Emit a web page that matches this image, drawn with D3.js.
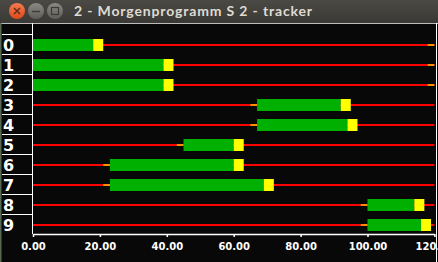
<!DOCTYPE html>
<html>
<head>
<meta charset="utf-8">
<script src="https://cdn.jsdelivr.net/npm/d3@7"></script>
<style>
  body { margin: 0; background: #000; overflow: hidden; }
  svg { display: block; }
</style>
</head>
<body>
<script>
// track data (seconds)
const tracks = ["0", "1", "2", "3", "4", "5", "6", "7", "8", "9"];
const preFrom = [118, 118, 118, 65, 65, 43, 21, 21, 98, 98];
const preTo = [120, 120, 120, 67, 67, 45, 23, 23, 100, 100];
const playStart = [0, 0, 0, 67, 67, 45, 23, 23, 100, 100];
const playEnd = [18, 39, 39, 92, 94, 60, 60, 69, 114, 116];
const stopEnd = [21, 42, 42, 95, 97, 63, 63, 72, 117, 119];
const tickValues = [0, 20, 40, 60, 80, 100, 120];
const title = "2 - Morgenprogramm S 2 - tracker";

const W = 438, H = 262;

let svg = d3.select("body").append("svg")
    .attr("width", W)
    .attr("height", H);

let defs = svg.append("defs");
let g1 = defs.append("linearGradient").attr("id", "bar").attr("x1", 0).attr("y1", 0).attr("x2", 0).attr("y2", 1);
g1.append("stop").attr("offset", "0%").attr("stop-color", "#4a4944");
g1.append("stop").attr("offset", "100%").attr("stop-color", "#3a3935");
let g2 = defs.append("linearGradient").attr("id", "close").attr("x1", 0).attr("y1", 0).attr("x2", 0).attr("y2", 1);
g2.append("stop").attr("offset", "0%").attr("stop-color", "#f37a4e");
g2.append("stop").attr("offset", "100%").attr("stop-color", "#df4a1c");
let g3 = defs.append("linearGradient").attr("id", "btn").attr("x1", 0).attr("y1", 0).attr("x2", 0).attr("y2", 1);
g3.append("stop").attr("offset", "0%").attr("stop-color", "#8a8984");
g3.append("stop").attr("offset", "100%").attr("stop-color", "#5e5d59");

// window frame
svg.append("rect").attr("width", W).attr("height", H).attr("fill", "#080808");
svg.append("rect").attr("width", W).attr("height", 23).attr("fill", "url(#bar)");
svg.append("line").attr("x1", 0).attr("x2", W).attr("y1", 23.5).attr("y2", 23.5)
    .attr("stroke", "#bdbdbd");
svg.append("rect").attr("x", 0).attr("y", 23).attr("width", 1.5).attr("height", H - 23).attr("fill", "#56684f");

svg.append("circle").attr("cx", 17).attr("cy", 11).attr("r", 8).attr("fill", "url(#close)");
svg.append("path").attr("d", "M14,8L20,14M20,8L14,14").attr("stroke", "#5a2a1a").attr("stroke-width", 1.4);
svg.append("circle").attr("cx", 36).attr("cy", 11).attr("r", 8).attr("fill", "url(#btn)");
svg.append("path").attr("d", "M32,11.5H40").attr("stroke", "#3c3b37").attr("stroke-width", 1.4);
svg.append("circle").attr("cx", 55).attr("cy", 11).attr("r", 8).attr("fill", "url(#btn)");
svg.append("rect").attr("x", 51.5).attr("y", 7.5).attr("width", 7).attr("height", 7)
    .attr("fill", "none").attr("stroke", "#3c3b37").attr("stroke-width", 1.2);

svg.append("text")
    .attr("x", 74).attr("y", 16)
    .attr("fill", "#dfdbd2")
    .style("font", "bold 14px Lato, 'DejaVu Sans', sans-serif")
    .style("letter-spacing", "0.85px")
    .text(title);

// scales
let x = d3.scaleLinear().domain([0, 120]).range([33, 434.4]);
let y = d3.scaleBand().domain(tracks).range([34, 234]);

// label column
let labelCol = svg.append("g");
labelCol.selectAll("line.sep")
    .data(tracks)
    .enter()
    .append("line")
    .attr("class", "sep")
    .attr("x1", 2).attr("x2", 32)
    .attr("y1", d => y(d) + 0.5).attr("y2", d => y(d) + 0.5)
    .attr("stroke", "#fff");
labelCol.selectAll("text")
    .data(tracks)
    .enter()
    .append("text")
    .attr("x", 3)
    .attr("y", d => y(d) + 17)
    .attr("fill", "#fff")
    .style("font", "bold 16px 'DejaVu Sans', sans-serif")
    .text(d => d);
svg.append("line").attr("x1", 32.5).attr("x2", 32.5).attr("y1", 23).attr("y2", 234)
    .attr("stroke", "#fff");
svg.append("line").attr("x1", 436.5).attr("x2", 436.5).attr("y1", 23).attr("y2", H)
    .attr("stroke", "#fff");

// tracks
let rows = svg.append("g").selectAll("g")
    .data(tracks)
    .enter()
    .append("g");

rows.append("rect")
    .attr("x", x(0)).attr("width", x(120) - x(0))
    .attr("y", d => y(d) + 10).attr("height", 2)
    .attr("fill", "#ff0000");
rows.append("rect")
    .attr("x", (d, i) => x(preFrom[i]))
    .attr("width", (d, i) => x(preTo[i]) - x(preFrom[i]))
    .attr("y", d => y(d) + 10).attr("height", 2)
    .attr("fill", "#ff9000");
rows.append("rect")
    .attr("x", (d, i) => x(playStart[i]))
    .attr("width", (d, i) => x(playEnd[i]) - x(playStart[i]))
    .attr("y", d => y(d) + 5).attr("height", 12)
    .attr("fill", "#00b000");
rows.append("rect")
    .attr("x", (d, i) => x(playEnd[i]))
    .attr("width", (d, i) => x(stopEnd[i]) - x(playEnd[i]))
    .attr("y", d => y(d) + 5).attr("height", 12)
    .attr("fill", "#ffff00");

// axis
let axis = svg.append("g")
    .attr("transform", "translate(0,234)")
    .call(d3.axisBottom(x).tickValues(tickValues).tickFormat(d3.format(".2f"))
        .tickSize(3).tickPadding(6).tickSizeOuter(0));
axis.select(".domain").attr("stroke", "#fff").attr("stroke-width", 1.5);
axis.selectAll(".tick line").attr("stroke", "#fff").attr("stroke-width", 1.5);
axis.selectAll(".tick text")
    .attr("fill", "#fff")
    .style("font", "bold 10px 'DejaVu Sans', sans-serif");
</script>
</body>
</html>
